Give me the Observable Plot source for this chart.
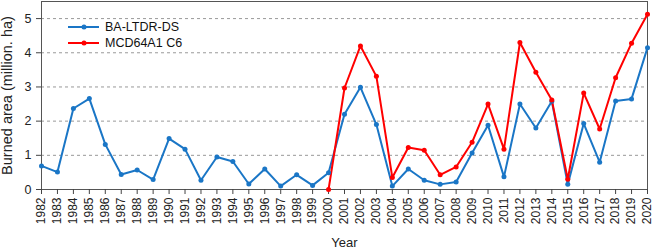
<!DOCTYPE html>
<html><head><meta charset="utf-8">
<script src="https://cdn.jsdelivr.net/npm/d3@7"></script>
<script src="https://cdn.jsdelivr.net/npm/@observablehq/plot@0.6"></script>
<style>
html,body{margin:0;padding:0;background:#fff;}
#wrap{position:relative;width:653px;height:248px;font-family:"Liberation Sans",Arial,sans-serif;}
#legend{position:absolute;left:68px;top:19px;font-size:12.5px;color:#111;line-height:16px;}
#legend .row{display:flex;align-items:center;height:16px;}
#legend svg{margin-right:6px;}
g[aria-label="x-axis label"] text{font-size:13px;}
g[aria-label="y-axis label"] text{font-size:14.5px;}
g[aria-label="y-axis tick label"] text{font-size:12.5px;}
</style></head>
<body><div id="wrap"><div id="legend"></div></div>
<script>
const years = d3.range(1982, 2021);
const seriesNames = ["BA-LTDR-DS", "MCD64A1 C6"];
const seriesColors = ["#1a76c6", "#ff0000"];
const baLtdr = [0.69,0.51,2.37,2.66,1.32,0.44,0.57,0.29,1.49,1.18,0.27,0.95,0.82,0.16,0.60,0.10,0.43,0.12,0.49,2.20,2.99,1.90,0.10,0.60,0.27,0.15,0.22,1.07,1.88,0.37,2.50,1.80,2.58,0.15,1.93,0.80,2.59,2.65,4.15];
const mcdYears = d3.range(2000, 2021);
const mcd64 = [0.00,2.97,4.20,3.31,0.35,1.23,1.15,0.43,0.66,1.38,2.50,1.18,4.30,3.43,2.62,0.30,2.82,1.77,3.27,4.28,5.13];
const yTicks = [0,1,2,3,4,5];

const data = [
  ...years.map((y,i)=>({year:y, value:baLtdr[i], series:seriesNames[0]})),
  ...mcdYears.map((y,i)=>({year:y, value:mcd64[i], series:seriesNames[1]}))
];

const chart = Plot.plot({
  width: 653, height: 248,
  marginLeft: 41, marginRight: 6, marginTop: 1, marginBottom: 59,
  style: {fontFamily: '"Liberation Sans", Arial, sans-serif', fontSize: "12px", color: "#222", background: "transparent"},
  x: {domain: [1982, 2020]},
  y: {domain: [0, 5.5]},
  color: {domain: seriesNames, range: seriesColors},
  marks: [
    Plot.ruleY(yTicks.filter(d=>d>0), {stroke: "#999", strokeDasharray: "3,3", strokeWidth: 1}),
    Plot.frame({stroke: "#555", strokeWidth: 1}),
    Plot.axisX({ticks: years, tickFormat: d => String(d), tickRotate: -90, tickSize: 5, tickPadding: 3, stroke: "#444",
      label: "Year", labelAnchor: "center", labelArrow: false, labelOffset: 57}),
    Plot.axisY({ticks: yTicks, tickFormat: d => String(d), tickSize: 5, tickPadding: 5, stroke: "#444",
      label: "Burned area (million. ha)", labelAnchor: "center", labelArrow: false, labelOffset: 40}),
    Plot.line(data, {x: "year", y: "value", z: "series", stroke: "series", strokeWidth: 2}),
    Plot.dot(data, {x: "year", y: "value", fill: "series", r: 2.5})
  ]
});
document.getElementById("wrap").prepend(chart);

const legend = document.getElementById("legend");
seriesNames.forEach((name, i) => {
  const row = document.createElement("div");
  row.className = "row";
  row.innerHTML = `<svg width="31" height="8"><line x1="0" x2="31" y1="4" y2="4" stroke="${seriesColors[i]}" stroke-width="2"/><circle cx="16" cy="4" r="2.5" fill="${seriesColors[i]}"/></svg><span>${name}</span>`;
  legend.appendChild(row);
});
</script></body></html>
